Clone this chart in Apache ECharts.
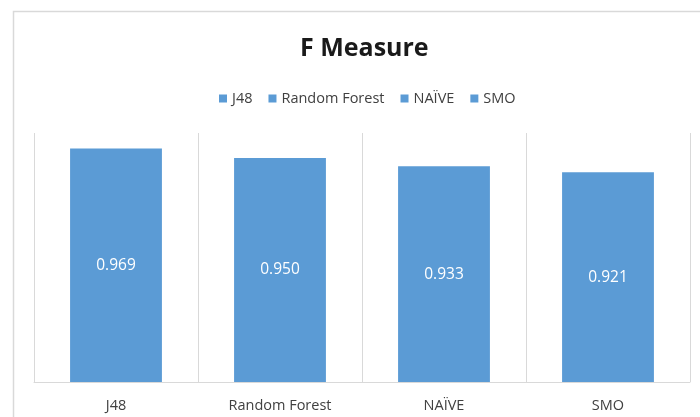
<!DOCTYPE html>
<html>
<head>
<meta charset="utf-8">
<script src="https://cdn.jsdelivr.net/npm/echarts@6/dist/echarts.min.js"></script>
<style>
  html, body { margin: 0; padding: 0; background: #fff; }
  #main { width: 700px; height: 417px; }
</style>
</head>
<body>
<div id="main"></div>
<script>
// F Measure per classifier
var categories = ['J48', 'Random Forest', 'NAÏVE', 'SMO'];
var fMeasure = [0.969, 0.950, 0.933, 0.921];
var barColor = '#5b9bd5';

var myChart = echarts.init(document.getElementById('main'));

// one series per classifier so the legend shows each name
var series = categories.map(function (name, i) {
    var data = categories.map(function (c, j) { return j === i ? fMeasure[i] : '-'; });
    return {
        name: name,
        type: 'bar',
        stack: 'all',
        barWidth: '56%',
        itemStyle: { color: barColor },
        label: {
            show: true,
            position: 'inside',
            color: '#fff',
            fontSize: 15.5,
            fontFamily: 'Open Sans',
            formatter: function (p) { return p.value.toFixed(3); }
        },
        data: data
    };
});

myChart.setOption({
    animation: false,
    textStyle: { fontFamily: 'Open Sans' },
    graphic: [{
        type: 'rect',
        shape: { x: 13.5, y: 11.5, width: 720, height: 430 },
        style: { fill: 'none', stroke: '#d9d9d9', lineWidth: 1.5 },
        silent: true
    }],
    title: {
        text: 'F Measure',
        left: 295,
        top: 31,
        textStyle: { fontSize: 25, fontWeight: 'bold', color: '#1a1a1a', fontFamily: 'Open Sans' }
    },
    legend: {
        data: categories,
        top: 86,
        left: 214,
        itemWidth: 8,
        itemHeight: 8,
        itemGap: 16,
        icon: 'rect',
        textStyle: { fontSize: 14.5, color: '#404040', fontFamily: 'Open Sans' }
    },
    grid: { left: 34, right: 10, top: 133, bottom: 35 },
    xAxis: {
        type: 'category',
        data: categories,
        axisTick: { show: false },
        axisLine: { lineStyle: { color: '#d9d9d9', width: 1 } },
        splitLine: { show: true, lineStyle: { color: '#d9d9d9', width: 1 } },
        axisLabel: { fontSize: 14.5, color: '#404040', margin: 16, fontFamily: 'Open Sans' }
    },
    yAxis: {
        type: 'value',
        min: 0.5,
        max: 1.0,
        show: false
    },
    series: series
});
</script>
</body>
</html>
